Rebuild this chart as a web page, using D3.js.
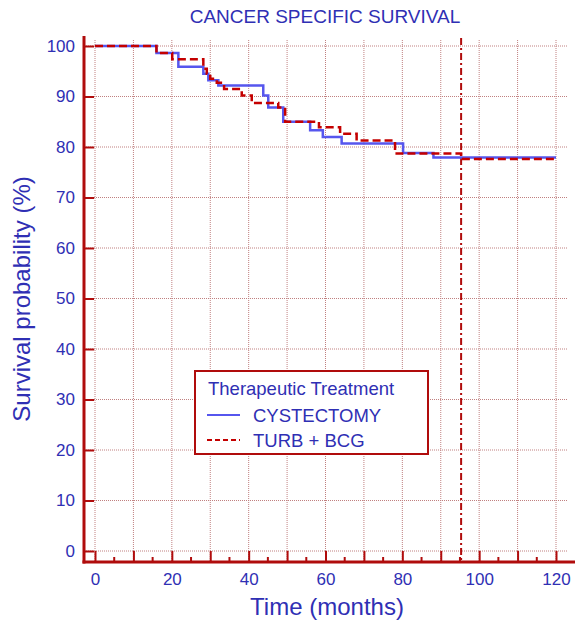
<!DOCTYPE html>
<html>
<head>
<meta charset="utf-8">
<script src="https://cdn.jsdelivr.net/npm/d3@7"></script>
<style>
  body { margin: 0; background: #fff; }
  text { font-family: "Liberation Sans", Arial, sans-serif; }
</style>
</head>
<body>
<svg id="chart"></svg>
<script>
// Kaplan-Meier steps (months, survival %)
const cystMonths = [0, 16, 21.7, 28.2, 29.5, 32.1, 43.8, 45.1, 49, 56, 59.3, 64.2, 80.2, 88.1, 120];
const cystSurv   = [100, 98.6, 95.9, 94.5, 93.2, 92.2, 90.2, 87.8, 85, 83.3, 82, 80.7, 78.8, 77.9, 77.9];

const turbMonths = [0, 16, 20.1, 28.2, 29.1, 30, 31.7, 33.6, 38.2, 40.8, 47.7, 49.5, 58.3, 63.8, 68.1, 78.1, 95.3, 120];
const turbSurv   = [100, 98.6, 97.4, 95.5, 94.5, 93.5, 92.7, 91.5, 90.2, 88.7, 87.8, 85, 83.9, 82.6, 81.3, 78.7, 77.6, 77.6];

const xTicks = [0, 10, 20, 30, 40, 50, 60, 70, 80, 90, 100, 110, 120];
const xLabels = [0, 20, 40, 60, 80, 100, 120];
const xMinor = [5, 15, 25, 35, 45, 55, 65, 75, 85, 95, 105, 115];
const yTicks = [0, 10, 20, 30, 40, 50, 60, 70, 80, 90, 100];
const refMonth = 95.3;

const width = 583, height = 625;
const axisRed = "#b00c0c", textBlue = "#2f2fb4", gridCol = "#c08080";

const svg = d3.select("#chart")
    .attr("width", width)
    .attr("height", height);

const x = d3.scaleLinear().domain([0, 120]).range([95, 556]);
const y = d3.scaleLinear().domain([0, 100]).range([551, 46]);

const axisX = 84, axisY = 562;

// grid
svg.append("g")
    .selectAll("line")
    .data(xTicks)
    .enter().append("line")
    .attr("x1", d => x(d)).attr("x2", d => x(d))
    .attr("y1", 40).attr("y2", axisY)
    .attr("stroke", gridCol)
    .attr("stroke-width", 1)
    .attr("stroke-dasharray", "1,1");

svg.append("g")
    .selectAll("line")
    .data(yTicks)
    .enter().append("line")
    .attr("x1", axisX).attr("x2", 568)
    .attr("y1", d => y(d)).attr("y2", d => y(d))
    .attr("stroke", gridCol)
    .attr("stroke-width", 1)
    .attr("stroke-dasharray", "1,1");

// reference line (dash-dot)
svg.append("line")
    .attr("x1", x(refMonth)).attr("x2", x(refMonth))
    .attr("y1", 38).attr("y2", axisY)
    .attr("stroke", axisRed)
    .attr("stroke-width", 2)
    .attr("stroke-dasharray", "7,3,2,3");

// curves
const stepLine = d3.line()
    .x(d => x(d[0]))
    .y(d => y(d[1]))
    .curve(d3.curveStepAfter);

svg.append("path")
    .datum(d3.zip(cystMonths, cystSurv))
    .attr("d", stepLine)
    .attr("fill", "none")
    .attr("stroke", "#5656ee")
    .attr("stroke-width", 2.5);

svg.append("path")
    .datum(d3.zip(turbMonths, turbSurv))
    .attr("d", stepLine)
    .attr("fill", "none")
    .attr("stroke", "#c40000")
    .attr("stroke-width", 2.5)
    .attr("stroke-dasharray", "8,4");

// y axis
const yAxis = svg.append("g")
    .attr("transform", `translate(${axisX},0)`)
    .call(d3.axisLeft(y).tickValues(yTicks).tickSizeInner(-10).tickSizeOuter(0).tickPadding(9));
yAxis.select(".domain").remove();
yAxis.selectAll(".tick line").attr("stroke", axisRed).attr("stroke-width", 2);
yAxis.selectAll(".tick text")
    .attr("fill", textBlue)
    .style("font-size", "17px")
    .style("font-family", "Liberation Sans, Arial, sans-serif");

// x axis (major + minor ticks)
const xAxis = svg.append("g")
    .attr("transform", `translate(0,${axisY})`)
    .call(d3.axisBottom(x).tickValues(xTicks).tickSizeInner(-11).tickSizeOuter(0).tickPadding(11)
        .tickFormat(d => xLabels.includes(d) ? d : ""));
xAxis.select(".domain").remove();
xAxis.selectAll(".tick line").attr("stroke", axisRed).attr("stroke-width", 2);
xAxis.selectAll(".tick text")
    .attr("fill", textBlue)
    .style("font-size", "17px")
    .style("font-family", "Liberation Sans, Arial, sans-serif");

svg.append("g")
    .selectAll("line")
    .data(xMinor)
    .enter().append("line")
    .attr("x1", d => x(d)).attr("x2", d => x(d))
    .attr("y1", axisY).attr("y2", axisY - 5)
    .attr("stroke", axisRed)
    .attr("stroke-width", 2);

// axis lines
svg.append("line")
    .attr("x1", axisX).attr("x2", axisX)
    .attr("y1", 36).attr("y2", axisY + 1.5)
    .attr("stroke", axisRed).attr("stroke-width", 3);
svg.append("line")
    .attr("x1", axisX - 1.5).attr("x2", 575)
    .attr("y1", axisY).attr("y2", axisY)
    .attr("stroke", axisRed).attr("stroke-width", 3);

// titles
svg.append("text")
    .attr("x", 325).attr("y", 23)
    .attr("text-anchor", "middle")
    .attr("fill", textBlue)
    .style("font-size", "19px")
    .text("CANCER SPECIFIC SURVIVAL");

svg.append("text")
    .attr("x", 327).attr("y", 615)
    .attr("text-anchor", "middle")
    .attr("fill", textBlue)
    .style("font-size", "24px")
    .text("Time (months)");

svg.append("text")
    .attr("transform", "rotate(-90)")
    .attr("x", -299).attr("y", 30)
    .attr("text-anchor", "middle")
    .attr("fill", textBlue)
    .style("font-size", "24px")
    .text("Survival probability (%)");

// legend
const legend = svg.append("g");
legend.append("rect")
    .attr("x", 195).attr("y", 371)
    .attr("width", 233).attr("height", 83)
    .attr("fill", "#fff")
    .attr("stroke", axisRed)
    .attr("stroke-width", 2);

legend.append("text")
    .attr("x", 208).attr("y", 395)
    .attr("fill", textBlue)
    .style("font-size", "18.5px")
    .text("Therapeutic Treatment");

const legendItems = [
    {name: "CYSTECTOMY", color: "#5656ee", dash: null, y: 415},
    {name: "TURB + BCG", color: "#c40000", dash: "5,3", y: 440}
];

legendItems.forEach(item => {
    legend.append("line")
        .attr("x1", 207).attr("x2", 240)
        .attr("y1", item.y).attr("y2", item.y)
        .attr("stroke", item.color)
        .attr("stroke-width", 2)
        .attr("stroke-dasharray", item.dash);
    legend.append("text")
        .attr("x", 253).attr("y", item.y + 7)
        .attr("fill", textBlue)
        .style("font-size", "18.5px")
        .text(item.name);
});
</script>
</body>
</html>
